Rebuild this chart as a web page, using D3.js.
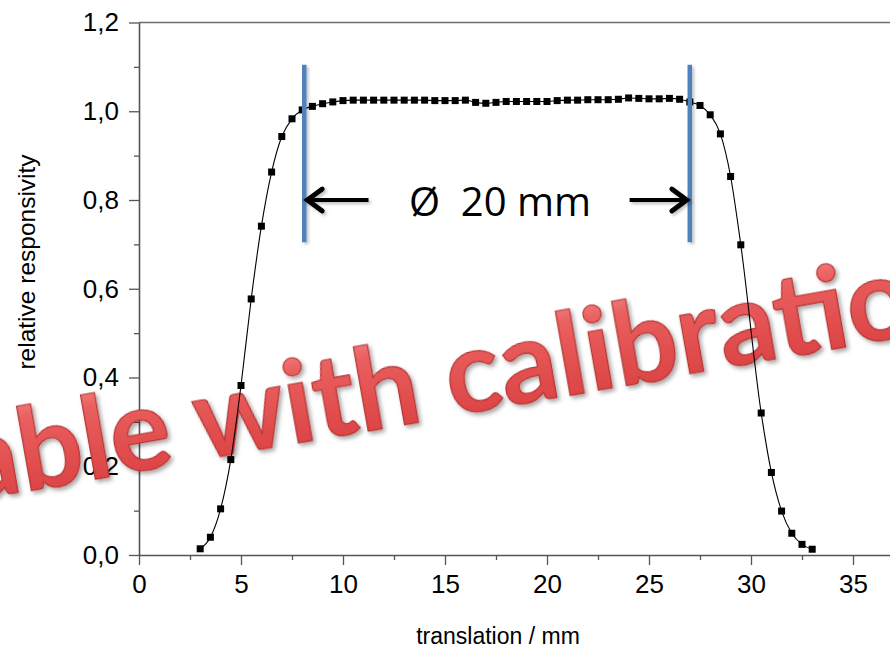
<!DOCTYPE html>
<html lang="en">
<head>
<meta charset="utf-8" />
<title>relative responsivity</title>
<script src="https://d3js.org/d3.v7.min.js"></script>
<style>
  body { margin: 0; background: #fff; }
  svg { display: block; }
</style>
</head>
<body>
<script>
// measured profile (translation in mm, relative responsivity)
const translation = [3, 3.5, 4, 4.5, 5, 5.5, 6, 6.5, 7, 7.5, 8, 8.5, 9, 9.5, 10, 10.5, 11, 11.5, 12, 12.5,
  13, 13.5, 14, 14.5, 15, 15.5, 16, 16.5, 17, 17.5, 18, 18.5, 19, 19.5, 20, 20.5, 21, 21.5, 22, 22.5,
  23, 23.5, 24, 24.5, 25, 25.5, 26, 26.5, 27, 27.5, 28, 28.5, 29, 29.5, 30.5, 31, 31.5, 32, 32.5, 33];
const responsivity = [0.014, 0.040, 0.104, 0.215, 0.382, 0.577, 0.741, 0.863, 0.943, 0.983, 1.003, 1.011, 1.017, 1.021, 1.024, 1.025, 1.025, 1.025, 1.025, 1.025,
  1.025, 1.025, 1.025, 1.024, 1.024, 1.024, 1.025, 1.020, 1.018, 1.020, 1.022, 1.022, 1.022, 1.022, 1.022, 1.024, 1.025, 1.025, 1.026, 1.026,
  1.026, 1.027, 1.030, 1.029, 1.028, 1.028, 1.029, 1.027, 1.021, 1.013, 0.992, 0.949, 0.853, 0.699, 0.320, 0.186, 0.099, 0.049, 0.024, 0.013];

const xTicks = [0, 5, 10, 15, 20, 25, 30, 35];
const xMinor = [2.5, 7.5, 12.5, 17.5, 22.5, 27.5, 32.5, 37.5];
const yTicks = [0, 0.2, 0.4, 0.6, 0.8, 1.0, 1.2];
const yMinor = [0.1, 0.3, 0.5, 0.7, 0.9, 1.1];

// diameter annotation
const edgeX = [8.1, 27.0];
const edgeY = [0.705, 1.105];
const arrowY = 0.8;
const arrowTail = [11.25, 24.05];
const diameterLabel = "Ø  20 mm";
const watermark = "Traceable with calibration";

const W = 890, H = 648;
const x = d3.scaleLinear().domain([0, 38]).range([139, 139 + 38 * 20.4]);
const y = d3.scaleLinear().domain([0, 1.2]).range([555, 22.5]);

const svg = d3.select("body").append("svg")
  .attr("width", W).attr("height", H)
  .style("font-family", "'Liberation Sans', Arial, sans-serif");

const defs = svg.append("defs");
const grad = defs.append("linearGradient").attr("id", "gloss")
  .attr("x1", 0).attr("y1", 0).attr("x2", 0).attr("y2", 1);
grad.append("stop").attr("offset", "0%").attr("stop-color", "#f7a3a3");
grad.append("stop").attr("offset", "30%").attr("stop-color", "#ea5f5f");
grad.append("stop").attr("offset", "100%").attr("stop-color", "#d83c3c");
const shadow = defs.append("filter").attr("id", "shadow")
  .attr("x", "-10%").attr("y", "-10%").attr("width", "120%").attr("height", "130%");
shadow.append("feDropShadow").attr("dx", 2).attr("dy", 3).attr("stdDeviation", 2)
  .attr("flood-color", "#000").attr("flood-opacity", 0.35);
// user space region so that zero-width lines still get drawn
const soft = defs.append("filter").attr("id", "soft")
  .attr("filterUnits", "userSpaceOnUse")
  .attr("x", 0).attr("y", 0).attr("width", W).attr("height", H);
soft.append("feDropShadow").attr("dx", 2).attr("dy", 2).attr("stdDeviation", 1.5)
  .attr("flood-color", "#000").attr("flood-opacity", 0.25);

const fmt = d => d3.format(".1f")(d).replace(".", ",");

// top frame line
svg.append("line")
  .attr("x1", x(0)).attr("x2", x(38))
  .attr("y1", y(1.2)).attr("y2", y(1.2))
  .attr("stroke", "#6e6e6e").attr("stroke-width", 1.6);

// x axis
svg.append("g").attr("transform", `translate(0,${y(0)})`)
  .call(d3.axisBottom(x).tickValues(xTicks).tickSize(10).tickSizeOuter(0).tickPadding(10));
svg.append("g").attr("transform", `translate(0,${y(0)})`)
  .call(d3.axisBottom(x).tickValues(xMinor).tickSize(5).tickFormat(""))
  .select(".domain").remove();

// y axis
svg.append("g").attr("transform", `translate(${x(0)},0)`)
  .call(d3.axisLeft(y).tickValues(yTicks).tickSize(10).tickSizeOuter(0).tickPadding(10).tickFormat(fmt));
svg.append("g").attr("transform", `translate(${x(0)},0)`)
  .call(d3.axisLeft(y).tickValues(yMinor).tickSize(5).tickFormat(""))
  .select(".domain").remove();

svg.selectAll(".domain").attr("stroke", "#555").attr("stroke-width", 1.6);
svg.selectAll(".tick line").attr("stroke", "#555").attr("stroke-width", 1.3);
svg.selectAll(".tick text").attr("fill", "#000").style("font-size", "26px")
  .style("font-family", "'Liberation Sans', Arial, sans-serif");

// axis titles
svg.append("text")
  .attr("x", 498).attr("y", 644)
  .attr("text-anchor", "middle")
  .style("font-size", "23px")
  .text("translation / mm");
svg.append("text")
  .attr("transform", "translate(35,262) rotate(-90)")
  .attr("text-anchor", "middle")
  .style("font-size", "24.5px")
  .text("relative responsivity");

// watermark
const wm = svg.append("g").attr("transform", "translate(201,460) rotate(-10)");
const wmText = wm.append("text")
  .style("font-family", "Lato, 'Open Sans', sans-serif")
  .style("font-weight", 700)
  .style("font-size", "114px")
  .attr("fill", "url(#gloss)")
  .attr("stroke", "#b53535")
  .attr("stroke-width", 1.2)
  .attr("filter", "url(#shadow)")
  .text(watermark);
const pre = wmText.node().getSubStringLength(0, watermark.indexOf("with"));
wmText.attr("x", -pre);

// data line and markers
const pts = translation.map((t, i) => ({ t, r: responsivity[i] }));
const line = d3.line().curve(d3.curveMonotoneX).x(d => x(d.t)).y(d => y(d.r));
svg.append("path").datum(pts)
  .attr("d", line)
  .attr("fill", "none").attr("stroke", "#000").attr("stroke-width", 1.1);
svg.append("g").selectAll("rect").data(pts).join("rect")
  .attr("x", d => x(d.t) - 3.5).attr("y", d => y(d.r) - 3.5)
  .attr("width", 7).attr("height", 7)
  .attr("fill", "#000");

// blue edge markers
svg.append("g").attr("filter", "url(#soft)")
  .selectAll("line").data(edgeX).join("line")
  .attr("x1", d => x(d)).attr("x2", d => x(d))
  .attr("y1", y(edgeY[1])).attr("y2", y(edgeY[0]))
  .attr("stroke", "#4f81bd").attr("stroke-width", 4.5);

// arrows pointing at the edges
const ag = svg.append("g").attr("filter", "url(#soft)");
edgeX.forEach((e, i) => {
  const dir = i === 0 ? -1 : 1;
  const x1 = x(e) - dir * 3, x0 = x(arrowTail[i]), yy = y(arrowY);
  ag.append("line")
    .attr("x1", x0).attr("x2", x1 - dir * 3).attr("y1", yy).attr("y2", yy)
    .attr("stroke", "#000").attr("stroke-width", 4.2);
  ag.append("path")
    .attr("d", `M${x1 - dir * 15},${yy - 11}L${x1},${yy}L${x1 - dir * 15},${yy + 11}`)
    .attr("fill", "none").attr("stroke", "#000").attr("stroke-width", 4.8)
    .attr("stroke-linecap", "round").attr("stroke-linejoin", "miter");
});

svg.append("text")
  .attr("x", 500)
  .attr("y", y(arrowY) + 16)
  .attr("text-anchor", "middle")
  .style("font-family", "'Open Sans', Lato, sans-serif")
  .style("font-size", "40px")
  .attr("fill", "#000")
  .attr("xml:space", "preserve")
  .style("white-space", "pre")
  .text(diameterLabel);
</script>
</body>
</html>
